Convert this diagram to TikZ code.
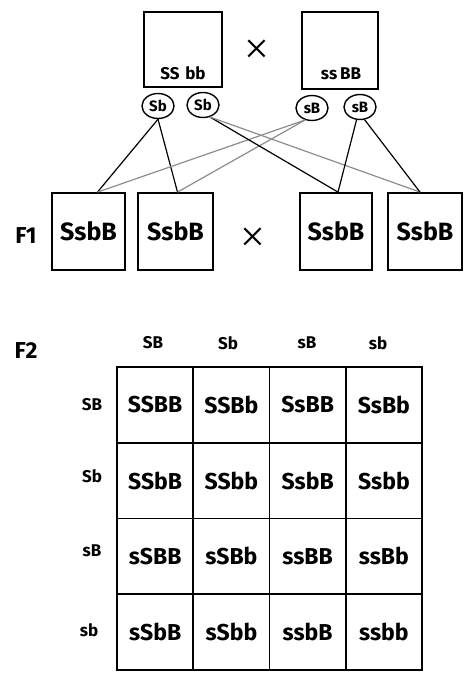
\documentclass[tikz,border=0pt]{standalone}
\usepackage{fontspec}
\setmainfont{Fira Sans}
\newfontfamily\crossfont{Liberation Serif}
\usetikzlibrary{shapes.geometric}
\begin{document}
\begin{tikzpicture}[x=1pt,y=-1pt,
  box/.style={draw, line width=1.8pt, inner sep=0pt},
  gam/.style={draw, ellipse, line width=1.4pt, inner sep=0pt, minimum width=32pt, minimum height=25pt, font=\bfseries\fontsize{15}{15}\selectfont},
  ptext/.style={font=\bfseries\fontsize{17}{17}\selectfont},
  f1text/.style={font=\bfseries\fontsize{25}{25}\selectfont},
  lbl/.style={font=\bfseries\fontsize{17}{17}\selectfont},
  gen/.style={font=\bfseries\fontsize{23}{23}\selectfont},
  cross/.style={font=\crossfont\fontsize{44}{44}\selectfont},
  link/.style={line width=1.2pt, black},
  glink/.style={line width=1.2pt, black!45},
  cell/.style={draw, line width=1.8pt, minimum width=76.25pt, minimum height=75.75pt, inner sep=0pt, font=\bfseries\fontsize{23}{23}\selectfont}
]
\useasboundingbox (0,0) rectangle (469,686);

% parents
\node[box, minimum width=78pt, minimum height=75pt] (p1) at (183,49.5) {};
\node[ptext] (p1t) at (183,73) {SS\,\,bb};
\node[box, minimum width=76pt, minimum height=77pt] (p2) at (340,50.5) {};
\node[ptext] (p2t) at (341,74) {ss\,BB};
\node[cross] (x1) at (257,52) {×};

% gametes
\node[gam] (g1) at (158,106) {Sb};
\node[gam] (g2) at (203,105) {Sb};
\node[gam] (g3) at (312,108) {sB};
\node[gam] (g4) at (360,107) {sB};

% F1
\node[gen] (F1) at (26,236) {F1};
\node[box, minimum width=73pt, minimum height=77pt] (f1) at (88.5,231.5) {};
\node[f1text] at (f1) (f1t) {SsbB};
\node[box, minimum width=75pt, minimum height=77pt] (f2) at (175.5,231.5) {};
\node[f1text] at (f2) (f2t) {SsbB};
\node[cross] (x2) at (253,240) {×};
\node[box, minimum width=72pt, minimum height=77pt] (f3) at (336,231.5) {};
\node[f1text] at (f3) (f3t) {SsbB};
\node[box, minimum width=74pt, minimum height=77pt] (f4) at (425,231.5) {};
\node[f1text] at (f4) (f4t) {SsbB};

% connectors
\draw[link]  (g1.south) -- ([xshift=9pt]f1.north);
\draw[link]  (g1.south) -- ([xshift=2pt]f2.north);
\draw[glink] (g3.-120) -- ([xshift=9pt]f1.north);
\draw[glink] (g3.-120) -- ([xshift=2pt]f2.north);
\draw[link]  (g2.-60) -- ([xshift=2pt]f3.north);
\draw[glink] (g2.-60) -- ([xshift=-5pt]f4.north);
\draw[link]  (g4.-105) -- ([xshift=2pt]f3.north);
\draw[link]  (g4.-70) -- ([xshift=-5pt]f4.north);

% F2
\node[gen] (F2) at (26,351) {F2};
\node[lbl] (c1) at (153,343) {SB};
\node[lbl] (c2) at (228,343) {Sb};
\node[lbl] (c3) at (307,343) {sB};
\node[lbl] (c4) at (378,343) {sb};
\node[lbl] (r1) at (92,405) {SB};
\node[lbl] (r2) at (92,476) {Sb};
\node[lbl] (r3) at (92,551) {sB};
\node[lbl] (r4) at (89,630) {sb};

\foreach \r/\row in {1/{SSBB,SSBb,SsBB,SsBb},2/{SSbB,SSbb,SsbB,Ssbb},3/{sSBB,sSBb,ssBB,ssBb},4/{sSbB,sSbb,ssbB,ssbb}}{
  \foreach \t [count=\c] in \row {
    \node[cell] (cell\r\c) at ({117+76.25*(\c-0.5)},{367+75.75*(\r-0.5)}) {\t};
  }
}
\end{tikzpicture}
\end{document}
